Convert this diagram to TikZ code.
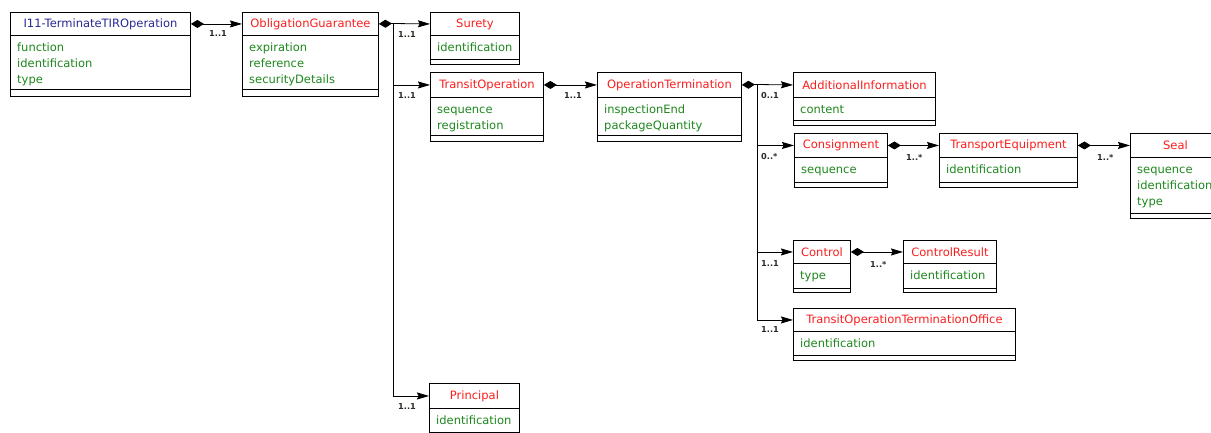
\documentclass[tikz,border=0pt]{standalone}
\usepackage{fontspec}
\setmainfont{DejaVu Sans}
\usetikzlibrary{arrows.meta}
\definecolor{titlered}{RGB}{250,30,30}
\definecolor{titleblue}{RGB}{40,40,150}
\definecolor{attrgreen}{RGB}{30,135,30}
\definecolor{multcol}{RGB}{45,40,35}
\tikzset{
  hdr/.style={draw, line width=0.9pt, inner sep=0pt, anchor=north west, text=titlered,
    font=\fontsize{11.5}{14}\selectfont},
  boxline/.style={line width=0.9pt},
  attr/.style={anchor=base west, inner sep=0pt, text=attrgreen, font=\fontsize{11.5}{14}\selectfont},
  mult/.style={anchor=west, inner sep=0pt, text=multcol, font=\fontsize{8.2}{9}\selectfont\bfseries},
  conn/.style={line width=0.8pt},
  comp/.style={conn, {Diamond[length=13pt,width=8pt]}-{Stealth[length=12pt,width=7pt,inset=1.5pt]}},
  compstart/.style={conn, {Diamond[length=13pt,width=8pt]}-},
  assoc/.style={conn, -{Stealth[length=12pt,width=7pt,inset=1.5pt]}},
}
\newcommand\umlclass[9]{%
  \node[hdr, minimum width={#4-#2}, minimum height={#5-#3}] (#1) at (#2,#3) {#8};
  \draw[boxline] (#2,#5) rectangle (#4,#6);
  \draw[boxline] (#2,#6) rectangle (#4,#7);
  \foreach \a [count=\i] in {#9} {\node[attr] (#1-\i) at ({#2+7},{#5+16+(\i-1)*16}) {\a};}
}
\begin{document}
\begin{tikzpicture}[x=1pt,y=-1pt]
\useasboundingbox (0,0) rectangle (1211,432);
\clip (0,0) rectangle (1211,432);
\fill[white] (0,0) rectangle (1211,432);

\umlclass{i11}{10}{12}{190}{35}{89}{96}{\color{titleblue}I11-TerminateTIROperation}{function,identification,type}
\umlclass{og}{242}{12}{378}{35}{89}{96}{ObligationGuarantee}{expiration,reference,securityDetails}
\umlclass{surety}{430}{12}{519}{35}{59}{64}{Surety}{identification}
\umlclass{transit}{430}{72}{543}{97}{135}{141}{TransitOperation}{sequence,registration}
\umlclass{opterm}{597}{72}{741}{97}{135}{141}{OperationTermination}{inspectionEnd,packageQuantity}
\umlclass{addinfo}{793}{72}{935}{97}{120}{125}{AdditionalInformation}{content}
\umlclass{consign}{794}{133}{887}{157}{182}{187}{Consignment}{sequence}
\umlclass{te}{939}{133}{1077}{157}{182}{187}{TransportEquipment}{identification}
\umlclass{seal}{1130}{133}{1220}{157}{213}{218}{Seal}{sequence,identification,type}
\umlclass{control}{793}{240}{850}{263}{288}{292}{Control}{type}
\umlclass{cresult}{903}{240}{996}{263}{288}{292}{ControlResult}{identification}
\umlclass{toto}{793}{308}{1015}{331}{355}{360}{TransitOperationTerminationOffice}{identification}
\umlclass{principal}{429}{383}{519}{408}{432}{437}{Principal}{identification}

% connectors
\draw[comp] (i11.east) -- (og.west);
\coordinate (t1) at (393,23.5);
\draw[compstart] (og.east) -- (t1);
\draw[assoc] (t1) -- (surety.west);
\draw[assoc] (t1) |- (transit.west);
\draw[assoc] (t1) |- (principal.west);
\draw[comp] (transit.east) -- (opterm.west);
\coordinate (t2) at (757,84.5);
\draw[compstart] (opterm.east) -- (t2);
\draw[assoc] (t2) -- (addinfo.west);
\draw[assoc] (t2) |- (consign.west);
\draw[assoc] (t2) |- (control.west);
\draw[assoc] (t2) |- (toto.west);
\draw[comp] (consign.east) -- (te.west);
\draw[comp] (te.east) -- (seal.west);
\draw[comp] (control.east) -- (cresult.west);

% multiplicities
\node[mult] (m1) at (209,34) {1..1};
\node[mult] (m2) at (398,35) {1..1};
\node[mult] (m3) at (398,96) {1..1};
\node[mult] (m4) at (398,407) {1..1};
\node[mult] (m5) at (564,96) {1..1};
\node[mult] (m6) at (761,96) {0..1};
\node[mult] (m7) at (761,157) {0..*};
\node[mult] (m8) at (761,264) {1..1};
\node[mult] (m9) at (761,330) {1..1};
\node[mult] (m10) at (906,157) {1..*};
\node[mult] (m11) at (1097,157) {1..*};
\node[mult] (m12) at (870,264) {1..*};
\end{tikzpicture}
\end{document}
